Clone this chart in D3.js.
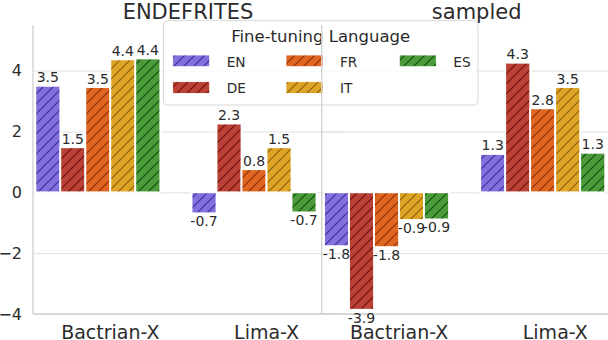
<!doctype html>
<html>
<head>
<meta charset="utf-8">
<script src="https://cdn.jsdelivr.net/npm/d3@7/dist/d3.min.js"></script>
<style>
  body { margin: 0; background: #fff; }
  text { font-family: "DejaVu Sans", sans-serif; fill: #2b2b2b; }
</style>
</head>
<body>
<div id="chart"></div>
<script>
// data
var langs = ["EN", "DE", "FR", "IT", "ES"];
var models = ["Bactrian-X", "Lima-X"];
var panelTitles = ["ENDEFRITES", "sampled"];

var endefritesBactrian = [3.5, 1.48, 3.46, 4.37, 4.4];
var endefritesLima = [-0.69, 2.26, 0.76, 1.48, -0.66];
var sampledBactrian = [-1.77, -3.86, -1.8, -0.91, -0.89];
var sampledLima = [1.26, 4.26, 2.76, 3.46, 1.3];

var yTicks = [-4, -2, 0, 2, 4];

var colors = ["#8470dc", "#bb4035", "#e06520", "#dea425", "#4c9b3a"];
var hatchColors = ["#3a2aa0", "#6a0f0c", "#8a2c04", "#8a5c06", "#0d4d0d"];

var width = 608, height = 340;
var axW = 310, xk = 156.2, xmin = -0.415;
var hueW = 0.16;

var svg = d3.select("#chart").append("svg")
    .attr("width", width)
    .attr("height", height);

// hatch patterns
var defs = svg.append("defs");
langs.forEach(function (l, i) {
    var p = defs.append("pattern")
        .attr("id", "hatch" + i)
        .attr("patternUnits", "userSpaceOnUse")
        .attr("width", 10).attr("height", 10);
    p.append("rect").attr("width", 10).attr("height", 10).attr("fill", colors[i]);
    p.append("path")
        .attr("d", "M-1,1 L1,-1 M0,10 L10,0 M9,11 L11,9")
        .attr("stroke", hatchColors[i])
        .attr("stroke-width", 1.1);
});

var y = d3.scaleLinear().domain([-4, 5.5]).range([314, 25]);

var panels = [
    { title: panelTitles[0], left: 33, series: [endefritesBactrian, endefritesLima], yLabels: true },
    { title: panelTitles[1], left: 321.7, series: [sampledBactrian, sampledLima], yLabels: false }
];

var fmt = function (v) { return v.toFixed(1); };

panels.forEach(function (p, pi) {
    var x = d3.scaleLinear()
        .domain([xmin, xmin + axW / xk])
        .range([p.left, p.left + axW]);
    p.x = x;

    var g = svg.append("g");

    // gridlines
    g.append("g")
        .attr("transform", "translate(" + p.left + ",0)")
        .call(d3.axisLeft(y).tickValues(yTicks).tickSize(-axW).tickFormat(""))
        .call(function (s) {
            s.select(".domain").remove();
            s.selectAll("line").attr("stroke", "#e0e0e0").attr("stroke-width", 1);
        });

    // y tick labels
    if (p.yLabels) {
        g.append("g")
            .attr("transform", "translate(" + p.left + ",0)")
            .call(d3.axisLeft(y).tickValues(yTicks).tickSize(0).tickPadding(11))
            .call(function (s) {
                s.select(".domain").remove();
                s.selectAll("text").style("font-size", "16px").attr("fill", "#2b2b2b");
            });
    }

    // x tick labels
    g.append("g")
        .attr("transform", "translate(0,314)")
        .call(d3.axisBottom(x).tickValues([0, 1]).tickSize(0).tickFormat(function (i) { return models[i]; }))
        .call(function (s) {
            s.select(".domain").remove();
            s.selectAll("text")
                .style("font-size", "19px")
                .attr("fill", "#2b2b2b")
                .attr("dy", null)
                .attr("y", 25)
                .attr("dx", 12);
        });

    // title
    g.append("text")
        .attr("x", p.left + axW / 2)
        .attr("y", 19)
        .attr("text-anchor", "middle")
        .style("font-size", "21px")
        .text(p.title);

    // bottom spine
    g.append("line")
        .attr("x1", p.left).attr("x2", p.left + axW)
        .attr("y1", 314).attr("y2", 314)
        .attr("stroke", "#d0d0d0").attr("stroke-width", 1.3);

    // bars
    var rows = [];
    p.series.forEach(function (vals, c) {
        vals.forEach(function (v, i) {
            rows.push({ c: c, i: i, v: v });
        });
    });

    g.selectAll(".bar")
        .data(rows)
        .enter().append("rect")
        .attr("class", "bar")
        .attr("x", function (d) { return x(d.c + (d.i - 2) * hueW - hueW / 2); })
        .attr("width", function (d) { return x(hueW) - x(0); })
        .attr("y", function (d) { return y(Math.max(0, d.v)); })
        .attr("height", function (d) { return Math.abs(y(d.v) - y(0)); })
        .attr("fill", function (d) { return "url(#hatch" + d.i + ")"; })
        .attr("stroke", "#fff")
        .attr("stroke-width", 1.8);

    g.selectAll(".vlab")
        .data(rows)
        .enter().append("text")
        .attr("class", "vlab")
        .attr("x", function (d) { return x(d.c + (d.i - 2) * hueW); })
        .attr("y", function (d) { return d.v >= 0 ? y(d.v) - 3.5 : y(d.v) + 13; })
        .attr("text-anchor", "middle")
        .style("font-size", "14px")
        .text(function (d) { return fmt(d.v); });

    // left spine
    p.spine = function () {
        svg.append("line")
            .attr("x1", p.left).attr("x2", p.left)
            .attr("y1", 25).attr("y2", 314)
            .attr("stroke", "#d0d0d0").attr("stroke-width", 1.3);
    };
    if (pi == 0) p.spine();
});

// legend
var lg = svg.append("g");
lg.append("rect")
    .attr("x", 163.5).attr("y", 20.7)
    .attr("width", 314.5).attr("height", 84.3)
    .attr("rx", 4)
    .attr("fill", "#fff").attr("fill-opacity", 0.8)
    .attr("stroke", "#d8d8d8").attr("stroke-width", 1);

lg.append("text")
    .attr("x", 320.7).attr("y", 41.7)
    .attr("text-anchor", "middle")
    .style("font-size", "16.5px")
    .text("Fine-tuning Language");

langs.forEach(function (l, i) {
    var col = i % 3, row = Math.floor(i / 3);
    // matplotlib fills columns first: EN, DE | FR, IT | ES
    col = Math.floor(i / 2); row = i % 2;
    var lx = 172.7 + col * 113.3;
    var ly = 55 + row * 26.7;
    lg.append("rect")
        .attr("x", lx).attr("y", ly)
        .attr("width", 37).attr("height", 11.7)
        .attr("fill", "url(#hatch" + i + ")")
        .attr("stroke", "#fff").attr("stroke-width", 0.8);
    lg.append("text")
        .attr("x", lx + 54).attr("y", ly + 11.5)
        .style("font-size", "13.7px")
        .text(l);
});

// right panel spine sits on top
panels[1].spine();
</script>
</body>
</html>
